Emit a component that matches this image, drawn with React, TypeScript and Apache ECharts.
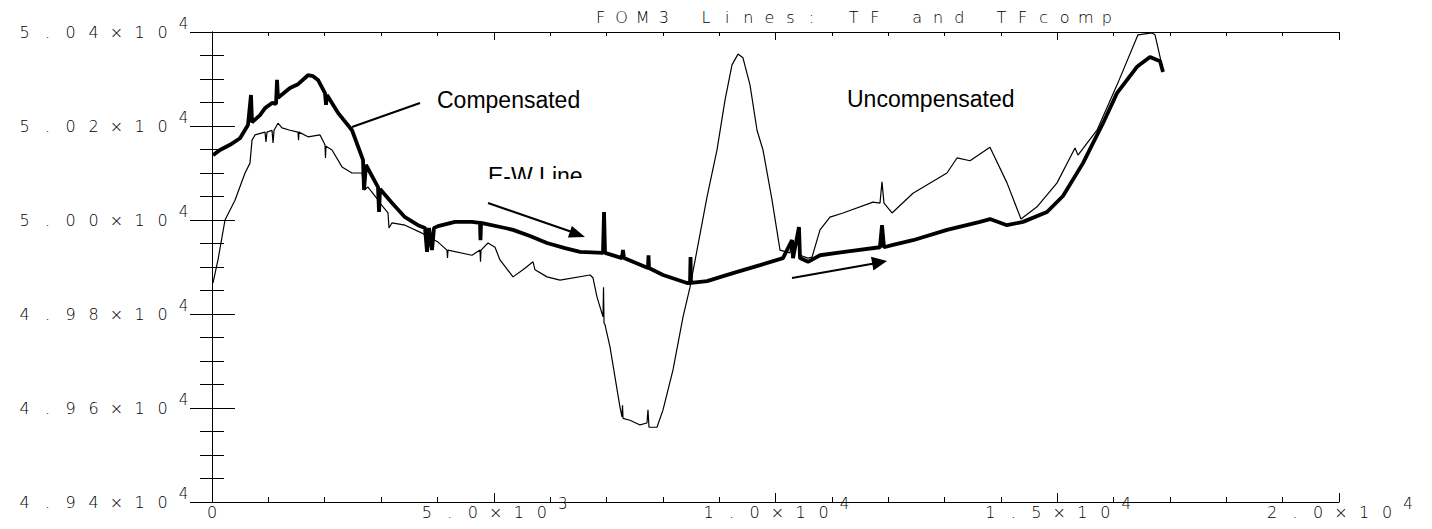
import React, { useEffect, useRef } from "react";
import * as echarts from "echarts";

const titleText = "FOM3 Lines: TF and TFcomp";
const xMin = 0;
const xMax = 20000;
const xStep = 5000;
const yMin = 49400;
const yMax = 50400;
const yStep = 200;

// TFcomp (compensated, thick line)
const compensated: [number, number][] = [
  [18, 50138], [142, 50149], [320, 50160], [497, 50174], [639, 50202], [692, 50266], [710, 50208],
  [852, 50223], [941, 50238], [1065, 50249], [1136, 50247], [1154, 50298], [1171, 50260], [1384, 50281],
  [1527, 50289], [1704, 50308], [1793, 50306], [1881, 50298], [2005, 50270], [2023, 50245], [2041, 50266],
  [2236, 50228], [2485, 50191], [2680, 50128], [2698, 50064], [2733, 50117], [2946, 50070], [2964, 50017],
  [2982, 50066], [3195, 50036], [3425, 50006], [3656, 49989], [3780, 49983], [3816, 49932], [3851, 49983],
  [3904, 49936], [3940, 49983], [4011, 49987], [4313, 49996], [4614, 49996], [4756, 49994], [4765, 49957],
  [4774, 49994], [5200, 49983], [5342, 49979], [5643, 49966], [5945, 49951], [6264, 49940], [6531, 49932],
  [6939, 49930], [6957, 50017], [6975, 49930], [7276, 49919], [7293, 49936], [7311, 49919], [7737, 49898],
  [7746, 49925], [7755, 49898], [8004, 49883], [8430, 49866], [8483, 49866], [8492, 49921], [8500, 49866],
  [8785, 49870], [9246, 49887], [9725, 49904], [10133, 49919], [10293, 49957], [10311, 49919], [10417, 49985],
  [10435, 49919], [10577, 49911], [10790, 49925], [11322, 49934], [11854, 49942], [11890, 49989], [11925, 49942],
  [12085, 49947], [12440, 49957], [13043, 49979], [13629, 49996], [13806, 50002], [14108, 49989], [14392, 49996],
  [14818, 50017], [15102, 50051], [15457, 50121], [15812, 50206], [16060, 50270], [16415, 50326], [16646, 50347],
  [16824, 50338], [16877, 50315],
];

// TF (uncompensated, thin line)
const uncompensated: [number, number][] = [
  [18, 49866], [106, 49915], [231, 50000], [408, 50042], [586, 50100], [674, 50121], [710, 50170],
  [763, 50181], [941, 50187], [958, 50166], [976, 50187], [1065, 50191], [1083, 50164], [1101, 50191],
  [1171, 50206], [1242, 50196], [1384, 50191], [1527, 50187], [1536, 50170], [1544, 50187], [1704, 50177],
  [1917, 50181], [2005, 50160], [2014, 50132], [2023, 50157], [2130, 50149], [2307, 50113], [2485, 50100],
  [2662, 50100], [2698, 50064], [2768, 50070], [2946, 50043], [2964, 50017], [2982, 50036], [3123, 50015],
  [3141, 49983], [3195, 49994], [3425, 49989], [3727, 49972], [4011, 49953], [4170, 49936], [4179, 49919],
  [4188, 49936], [4614, 49925], [4756, 49936], [4765, 49911], [4774, 49936], [4898, 49951], [5022, 49942],
  [5111, 49915], [5342, 49879], [5519, 49894], [5697, 49911], [5732, 49894], [5945, 49879], [6176, 49872],
  [6708, 49883], [6761, 49877], [6833, 49836], [6939, 49794], [6948, 49857], [6957, 49781], [6975, 49777],
  [7063, 49730], [7240, 49602], [7276, 49581], [7285, 49606], [7294, 49578], [7418, 49574], [7595, 49564],
  [7719, 49568], [7737, 49596], [7755, 49559], [7897, 49559], [8004, 49596], [8181, 49681], [8359, 49794],
  [8483, 49857], [8785, 50049], [8962, 50149], [9104, 50255], [9228, 50330], [9335, 50353], [9423, 50345],
  [9548, 50287], [9672, 50191], [9778, 50149], [9938, 50043], [10080, 49936], [10257, 49930], [10293, 49957],
  [10311, 49930], [10417, 49985], [10435, 49925], [10577, 49919], [10648, 49921], [10790, 49979], [10967, 50006],
  [11198, 50015], [11730, 50038], [11854, 50036], [11890, 50081], [11925, 50036], [12068, 50015], [12440, 50057],
  [13043, 50100], [13221, 50132], [13452, 50126], [13806, 50155], [14108, 50079], [14357, 50002], [14641, 50028],
  [14996, 50079], [15315, 50153], [15368, 50138], [15705, 50191], [16060, 50287], [16433, 50394], [16681, 50398],
  [16735, 50394], [16824, 50347], [16877, 50319],
];

const FONT = "'Liberation Sans', Arial, sans-serif";
const THIN = "'DejaVu Sans', 'Liberation Sans', sans-serif";

function sciLabel(v: number, digits: number): string {
  if (v === 0) return "{c|0}";
  const e = Math.floor(Math.log10(Math.abs(v)) + 1e-9);
  const m = (v / Math.pow(10, e)).toFixed(digits);
  const base = m + "\u00d710";
  return base.split("").map((ch) => `{c|${ch}}`).join("") + `{s|${e}}`;
}

const labelRich: any = {
  c: {
    fontFamily: THIN, fontSize: 16, fontWeight: 200, color: "#000", width: 23, align: "center",
    lineHeight: 17, verticalAlign: "bottom",
  },
  s: {
    fontFamily: THIN, fontSize: 15, fontWeight: 200, color: "#000", width: 19, align: "center",
    lineHeight: 17, padding: [0, 0, 9, 0], verticalAlign: "bottom",
  },
};

const titleRich: any = {
  t: {
    fontFamily: THIN, fontSize: 16, fontWeight: 200, color: "#000", width: 21.1, align: "center",
    lineHeight: 18,
  },
};

function buildOption(): any {
  const axisCommon = {
    type: "value",
    axisLine: { show: true, lineStyle: { color: "#000", width: 1 } },
    splitLine: { show: false },
  };
  return {
    animation: false,
    backgroundColor: "#fff",
    title: {
      text: titleText.split("").map((ch) => `{t|${ch}}`).join(""),
      left: 590,
      top: 8,
      padding: 0,
      textStyle: { fontWeight: 200, rich: titleRich },
    },
    grid: { left: 212, right: 93, top: 32, bottom: 27, containLabel: false },
    xAxis: [
      {
        ...axisCommon, position: "bottom", min: xMin, max: xMax, interval: xStep,
        axisTick: { show: true, inside: true, length: 9, lineStyle: { color: "#000" } },
        minorTick: { show: true, splitNumber: 5, length: 5, lineStyle: { color: "#000" } },
        axisLabel: {
          show: true, margin: 1, formatter: (v: number) => sciLabel(v, 1), rich: labelRich,
          showMinLabel: true, showMaxLabel: true,
        },
      },
      {
        ...axisCommon, position: "top", min: xMin, max: xMax, interval: xStep,
        axisTick: { show: true, inside: true, length: 8, lineStyle: { color: "#000" } },
        minorTick: { show: true, splitNumber: 5, length: 4, lineStyle: { color: "#000" } },
        axisLabel: { show: false },
      },
    ],
    yAxis: [
      {
        ...axisCommon, position: "left", min: yMin, max: yMax, interval: yStep,
        axisTick: { show: true, inside: true, length: 23, lineStyle: { color: "#000" } },
        minorTick: { show: true, splitNumber: 4, length: 12, lineStyle: { color: "#000" } },
        axisLabel: {
          show: true, margin: 19, formatter: (v: number) => sciLabel(v, 2), rich: labelRich,
          showMinLabel: true, showMaxLabel: true,
        },
      },
      {
        ...axisCommon, position: "right", min: yMin, max: yMax, interval: yStep,
        axisTick: { show: true, inside: true, length: 22, lineStyle: { color: "#000" } },
        minorTick: { show: true, splitNumber: 4, length: 12, lineStyle: { color: "#000" } },
        axisLabel: { show: false },
      },
    ],
    series: [
      {
        name: "TF", type: "line", data: uncompensated, xAxisIndex: 0, yAxisIndex: 0,
        showSymbol: false, symbol: "none", z: 2,
        lineStyle: { color: "#000", width: 1.2 },
      },
      {
        name: "TFcomp", type: "line", data: compensated, xAxisIndex: 0, yAxisIndex: 0,
        showSymbol: false, symbol: "none", z: 3,
        lineStyle: { color: "#000", width: 3.8 },
      },
    ],
    graphic: [
      {
        type: "text", x: 437, y: 100, z: 10,
        style: { text: "Compensated", fontFamily: FONT, fontSize: 23, fill: "#000", align: "left", verticalAlign: "middle" },
      },
      {
        type: "text", x: 847, y: 99, z: 10,
        style: { text: "Uncompensated", fontFamily: FONT, fontSize: 23, fill: "#000", align: "left", verticalAlign: "middle" },
      },
      {
        type: "text", x: 488, y: 176, z: 10,
        style: { text: "E-W Line", fontFamily: FONT, fontSize: 23, fill: "#000", align: "left", verticalAlign: "middle" },
      },
      {
        type: "rect", z: 11, shape: { x: 478, y: 179, width: 120, height: 14 },
        style: { fill: "#fff" },
      },
      {
        type: "line", z: 10, shape: { x1: 352, y1: 127, x2: 420, y2: 103 },
        style: { stroke: "#000", lineWidth: 2 },
      },
      {
        type: "line", z: 10, shape: { x1: 488, y1: 203, x2: 572, y2: 232 },
        style: { stroke: "#000", lineWidth: 2 },
      },
      {
        type: "polygon", z: 10, shape: { points: [[585, 237], [567.9, 237.4], [571.9, 226]] },
        style: { fill: "#000" },
      },
      {
        type: "line", z: 10, shape: { x1: 792, y1: 278, x2: 874, y2: 263.5 },
        style: { stroke: "#000", lineWidth: 2 },
      },
      {
        type: "polygon", z: 10, shape: { points: [[887, 261], [873.4, 270.5], [871, 256.7]] },
        style: { fill: "#000" },
      },
    ],
  };
}

export default function App() {
  const ref = useRef<HTMLDivElement>(null);
  useEffect(() => {
    if (!ref.current) return;
    const chart = echarts.init(ref.current, undefined, { renderer: "svg" });
    chart.setOption(buildOption());
    return () => chart.dispose();
  }, []);
  return (
    <div
      ref={ref}
      style={{ position: "fixed", left: 0, top: 0, width: 1432, height: 529, background: "#fff" }}
    />
  );
}
